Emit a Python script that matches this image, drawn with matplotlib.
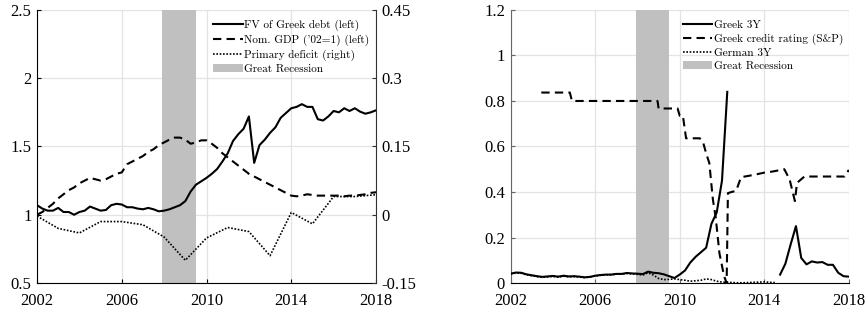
import numpy as np
import matplotlib
matplotlib.use("Agg")
import matplotlib.pyplot as plt
from matplotlib.patches import Patch

plt.rcParams['font.family'] = ['Liberation Serif', 'DejaVu Serif']

# ---- data -------------------------------------------------------------
# quarterly grid 2002Q1 .. 2018Q1
quarters = 2002 + np.arange(65) / 4.0

fv_debt = [1.07, 1.045, 1.03, 1.03, 1.05, 1.02, 1.02, 1.00, 1.02, 1.03,
           1.06, 1.045, 1.03, 1.035, 1.07, 1.08, 1.075, 1.055, 1.055, 1.045,
           1.04, 1.05, 1.04, 1.025, 1.03, 1.04, 1.055, 1.07, 1.10, 1.17,
           1.22, 1.245, 1.27, 1.30, 1.335, 1.39, 1.45, 1.54, 1.59, 1.63,
           1.72, 1.38, 1.51, 1.55, 1.60, 1.64, 1.71, 1.745, 1.78, 1.79,
           1.81, 1.79, 1.79, 1.70, 1.69, 1.72, 1.76, 1.75, 1.78, 1.76,
           1.78, 1.755, 1.74, 1.75, 1.765]

nom_gdp = [1.00, 1.02, 1.05, 1.08, 1.12, 1.15, 1.18, 1.20, 1.23, 1.25,
           1.27, 1.26, 1.25, 1.26, 1.28, 1.30, 1.31, 1.37, 1.39, 1.41,
           1.43, 1.46, 1.48, 1.51, 1.53, 1.55, 1.565, 1.565, 1.55, 1.52,
           1.53, 1.545, 1.545, 1.52, 1.49, 1.45, 1.42, 1.39, 1.36, 1.33,
           1.30, 1.28, 1.26, 1.24, 1.22, 1.20, 1.18, 1.16, 1.14, 1.135,
           1.14, 1.15, 1.145, 1.14, 1.14, 1.14, 1.14, 1.14, 1.135, 1.14,
           1.14, 1.145, 1.15, 1.16, 1.165]

years = np.arange(2002, 2019)
primary_deficit = [-0.003, -0.030, -0.040, -0.015, -0.015, -0.022, -0.049,
                   -0.100, -0.051, -0.028, -0.037, -0.090, 0.005, -0.020,
                   0.040, 0.040, 0.044]

nan = np.nan
greek_3y = [0.041, 0.046, 0.045, 0.038, 0.034, 0.030, 0.027, 0.029, 0.031,
            0.028, 0.032, 0.029, 0.030, 0.028, 0.025, 0.027, 0.032, 0.035,
            0.037, 0.037, 0.040, 0.040, 0.044, 0.042, 0.041, 0.039, 0.050,
            0.045, 0.043, 0.038, 0.030, 0.022, 0.037, 0.055, 0.090, 0.115,
            0.135, 0.155, 0.26, 0.31, 0.45, 0.84,
            nan, nan, nan, nan, nan, nan, nan, nan, nan,
            0.037, 0.085, 0.17, 0.25, 0.11, 0.082, 0.095, 0.09, 0.092,
            0.08, 0.08, 0.045, 0.03, 0.028]

german_3y = [0.040, 0.044, 0.043, 0.036, 0.032, 0.028, 0.025, 0.027, 0.029,
             0.026, 0.030, 0.027, 0.028, 0.026, 0.024, 0.026, 0.031, 0.034,
             0.036, 0.036, 0.039, 0.039, 0.042, 0.040, 0.038, 0.035, 0.045,
             0.035, 0.020, 0.015, 0.016, 0.018, 0.015, 0.012, 0.008, 0.010,
             0.012, 0.018, 0.015, 0.008, 0.004, 0.003, 0.002, 0.001, 0.001,
             0.002, 0.003, 0.004, 0.005, 0.003, 0.002,
             nan, nan, nan, nan, nan, nan, nan, nan, nan, nan, nan, nan,
             nan, nan]

rating_x = [2003.45, 2004.8, 2004.9, 2008.95, 2009.0, 2009.9, 2010.0,
            2010.15, 2010.3, 2010.95, 2011.1, 2011.25, 2011.4, 2011.57,
            2011.7, 2011.88, 2012.1, 2012.22, 2012.28, 2012.45, 2012.67,
            2012.9, 2013.5, 2014.0, 2014.4, 2014.95, 2015.2, 2015.45,
            2015.55, 2015.9, 2016.5, 2017.5, 2017.8, 2018.0]
rating = [0.837, 0.837, 0.80, 0.80, 0.767, 0.767, 0.735, 0.735, 0.636,
          0.636, 0.62, 0.57, 0.527, 0.366, 0.29, 0.13, 0.03, 0.0, 0.395,
          0.40, 0.405, 0.465, 0.475, 0.485, 0.49, 0.50, 0.455, 0.36, 0.44,
          0.468, 0.468, 0.468, 0.468, 0.497]

recession = (2007.92, 2009.5)

xticks = [2002, 2006, 2010, 2014, 2018]
left_yticks = [0.5, 1, 1.5, 2, 2.5]
left_ylabels = ["0.5", "1", "1.5", "2", "2.5"]
right_yticks = [-0.15, 0, 0.15, 0.3, 0.45]
right_ylabels = ["-0.15", "0", "0.15", "0.3", "0.45"]
r_yticks = [0, 0.2, 0.4, 0.6, 0.8, 1.0, 1.2]
r_ylabels = ["0", "0.2", "0.4", "0.6", "0.8", "1", "1.2"]

GRID = "#e3e3e3"
SHADE = "#c0c0c0"
TICKFS = 12
LEG = dict(loc="upper left", frameon=False,
           prop={"family": ["cmr10", "Liberation Serif"], "size": 8.1},
           handlelength=2.6, handletextpad=0.15, labelspacing=0.3,
           borderaxespad=0.55, borderpad=0.35)


def style_axes(ax, spine_color):
    ax.grid(True, color=GRID, linewidth=0.9)
    ax.set_axisbelow(True)
    ax.spines["top"].set_visible(False)
    ax.spines["right"].set_visible(False)
    ax.spines["left"].set_color(spine_color)
    ax.spines["bottom"].set_color("black")
    ax.tick_params(direction="in", length=3, labelsize=TICKFS,
                   color=spine_color, pad=4)
    ax.tick_params(axis="x", pad=7)
    ax.set_xlim(2002, 2018)
    ax.set_xticks(xticks)
    ax.set_xticklabels([str(x) for x in xticks])


fig = plt.figure(figsize=(8.67, 3.11), dpi=100)

# ---- left panel -------------------------------------------------------
ax1 = fig.add_axes([0.0427, 0.090, 0.391, 0.878])
style_axes(ax1, "black")
ax1.axvspan(*recession, color=SHADE, lw=0, zorder=1)
l1, = ax1.plot(quarters, fv_debt, color="black", lw=1.5, zorder=3)
l2, = ax1.plot(quarters, nom_gdp, color="black", lw=1.5, ls=(0, (4, 2.5)),
               zorder=3)
ax1.set_ylim(0.5, 2.5)
ax1.set_yticks(left_yticks)
ax1.set_yticklabels(left_ylabels)

ax1r = ax1.twinx()
ax1r.set_ylim(-0.15, 0.45)
ax1r.set_yticks(right_yticks)
ax1r.set_yticklabels(right_ylabels)
l3, = ax1r.plot(years, primary_deficit, color="black", lw=1.2,
                ls=(0, (1, 1)), zorder=3)
for s in ("top", "left", "bottom"):
    ax1r.spines[s].set_visible(False)
ax1r.spines["right"].set_color("#333333")
ax1r.tick_params(direction="in", length=3, labelsize=TICKFS, pad=4,
                 color="#333333")

p1 = Patch(facecolor=SHADE, edgecolor="none")
ax1r.legend([l1, l2, l3, p1],
            ["FV of Greek debt (left)", "Nom. GDP ('02=1) (left)",
             "Primary deficit (right)", "Great Recession"],
            bbox_to_anchor=(0.49, 1.0), **LEG)

# ---- right panel ------------------------------------------------------
ax2 = fig.add_axes([0.589, 0.090, 0.390, 0.878])
style_axes(ax2, "#666666")
ax2.axvspan(*recession, color=SHADE, lw=0, zorder=1)
m1, = ax2.plot(quarters, greek_3y, color="black", lw=1.5, zorder=3)
m2, = ax2.plot(rating_x, rating, color="black", lw=1.5, ls=(0, (4, 2.5)),
               zorder=3)
m3, = ax2.plot(quarters, german_3y, color="black", lw=1.2, ls=(0, (1, 1)),
               zorder=3)
ax2.set_ylim(0, 1.2)
ax2.set_yticks(r_yticks)
ax2.set_yticklabels(r_ylabels)

p2 = Patch(facecolor=SHADE, edgecolor="none")
ax2.legend([m1, m2, m3, p2],
           ["Greek 3Y", "Greek credit rating (S&P)", "German 3Y",
            "Great Recession"],
           bbox_to_anchor=(0.48, 1.0), **LEG)

fig.savefig("out.png", dpi=100)
